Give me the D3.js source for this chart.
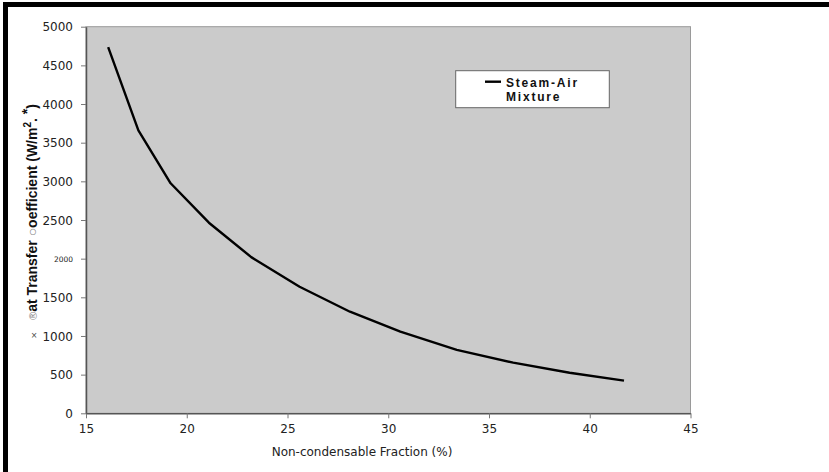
<!DOCTYPE html>
<html><head><meta charset="utf-8">
<script src="https://cdn.jsdelivr.net/npm/d3@7"></script>
<style>body{margin:0;background:#fff;} svg{display:block;}</style>
</head><body>
<svg id="c" width="829" height="472"></svg>
<script>
const fraction = [16.1, 17.6, 19.2, 21.1, 23.2, 25.6, 28.1, 30.6, 33.4, 36.2, 39.0, 41.7];
const htc = [4735, 3660, 2975, 2465, 2020, 1637, 1314, 1055, 820, 655, 525, 422];
const xTicks = [15, 20, 25, 30, 35, 40, 45];
const yTicks = [0, 500, 1000, 1500, 2000, 2500, 3000, 3500, 4000, 4500, 5000];
const seriesName = ["Steam-Air", "Mixture"];
const xTitle = "Non-condensable Fraction (%)";

const svg = d3.select("#c");
const L = 86, R = 690.5, T = 26.7, B = 413.3;
const x = d3.scaleLinear().domain([15, 45]).range([L, R]);
const y = d3.scaleLinear().domain([0, 5000]).range([B, T]);

// frame (top & left heavy black bars)
svg.append("rect").attr("x", 3).attr("y", 2).attr("width", 826).attr("height", 5).attr("fill", "#000");
svg.append("rect").attr("x", 3).attr("y", 2).attr("width", 5).attr("height", 470).attr("fill", "#000");

// plot area
svg.append("rect").attr("x", L).attr("y", T).attr("width", R - L).attr("height", B - T)
  .attr("fill", "#cbcbcb").attr("stroke", "#9a9a9a").attr("stroke-width", 1);

const font = "'DejaVu Sans', Verdana, sans-serif";

// axes
const xAxis = svg.append("g").attr("transform", `translate(0,${B})`)
  .call(d3.axisBottom(x).tickValues(xTicks).tickSize(5).tickSizeOuter(0).tickFormat(d3.format("d")));
const yAxis = svg.append("g").attr("transform", `translate(${L},0)`)
  .call(d3.axisLeft(y).tickValues(yTicks).tickSize(5).tickSizeOuter(0).tickFormat(d3.format("d")));
[xAxis, yAxis].forEach(g => {
  g.select(".domain").attr("stroke", "#555").attr("stroke-width", 1.5);
  g.selectAll(".tick line").attr("stroke", "#777");
  g.selectAll("text").attr("font-family", font).attr("font-size", 12).attr("fill", "#222");
});
xAxis.selectAll("text").attr("dy", "1.0em");
yAxis.selectAll("text").attr("x", -13).attr("dy", "0.35em");
yAxis.selectAll(".tick").filter(d => d === 2000).select("text").attr("font-size", 7.5);

// line
svg.append("path").datum(fraction.map((f, i) => [f, htc[i]]))
  .attr("fill", "none").attr("stroke", "#000").attr("stroke-width", 2.4).attr("stroke-linejoin", "round")
  .attr("d", d3.line().x(d => x(d[0])).y(d => y(d[1])));

// x title
svg.append("text").attr("x", 362).attr("y", 456).attr("text-anchor", "middle")
  .attr("font-family", font).attr("font-size", 12).attr("fill", "#222").text(xTitle);

// y title (garbled as in the source)
const yt = svg.append("text").attr("transform", "translate(37,212) rotate(-90)").attr("text-anchor", "middle")
  .attr("font-family", "'Liberation Sans', Arial, sans-serif").attr("font-weight", "bold").attr("font-size", 14).attr("fill", "#111");
yt.append("tspan").attr("fill", "#888").attr("font-weight", "normal").attr("font-size", 11).text("®");
yt.append("tspan").text("at Transfer ");
yt.append("tspan").attr("fill", "#888").attr("font-weight", "normal").text("○");
yt.append("tspan").text("oefficient (W/m");
yt.append("tspan").attr("font-size", 10).attr("dy", -6).text("2");
yt.append("tspan").attr("dy", 6).text(". ");
yt.append("tspan").attr("dy", -5).text("*");
yt.append("tspan").attr("dy", 5).text(")");
svg.append("text").attr("x", 34).attr("y", 338).attr("text-anchor", "middle")
  .attr("font-family", font).attr("font-size", 8).attr("fill", "#444").text("×");

// legend
svg.append("rect").attr("x", 455.7).attr("y", 70.7).attr("width", 153.6).attr("height", 37)
  .attr("fill", "#fff").attr("stroke", "#666").attr("stroke-width", 1);
svg.append("line").attr("x1", 485).attr("x2", 501).attr("y1", 81.7).attr("y2", 81.7)
  .attr("stroke", "#000").attr("stroke-width", 2.4);
svg.append("text").attr("x", 506).attr("y", 86.5).attr("font-family", "'Liberation Sans', Arial, sans-serif")
  .attr("font-weight", "bold").attr("font-size", 12).attr("letter-spacing", 1.8).attr("fill", "#111").text(seriesName[0]);
svg.append("text").attr("x", 506).attr("y", 100.7).attr("font-family", "'Liberation Sans', Arial, sans-serif")
  .attr("font-weight", "bold").attr("font-size", 12).attr("letter-spacing", 1.8).attr("fill", "#111").text(seriesName[1]);
</script>
</body></html>
